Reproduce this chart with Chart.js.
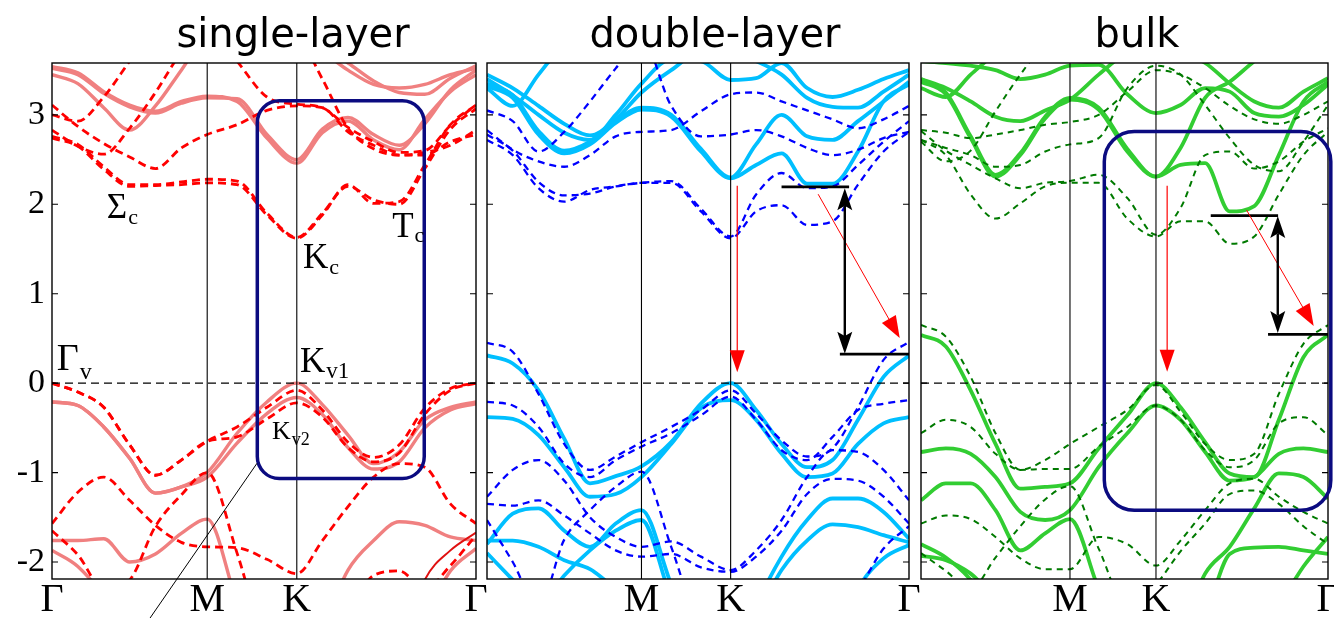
<!DOCTYPE html>
<html>
<head>
<meta charset="utf-8">
<script src="https://cdn.jsdelivr.net/npm/chart.js@4.4.1/dist/chart.umd.min.js"></script>
<style>
  html, body { margin: 0; padding: 0; background: #fff; }
  #wrap { position: relative; width: 1334px; height: 618px; overflow: hidden; }
  #wrap canvas { position: absolute; left: 0; top: 0; }
</style>
</head>
<body>
<div id="wrap">
  <canvas id="single" width="1334" height="618"></canvas>
  <canvas id="double" width="1334" height="618"></canvas>
  <canvas id="bulk" width="1334" height="618"></canvas>
</div>
<script>
// path Γ - M - K - Γ and the k samples every band is given on
const kPath = [0, 0.5774, 0.9107, 1.5774];
const kGrid = [0, 0.0962, 0.1925, 0.2887, 0.3849, 0.4811, 0.5774,
               0.6885, 0.7996, 0.9107,
               1.0059, 1.1012, 1.1964, 1.2917, 1.3869, 1.4822, 1.5774];
const eTicks = [-2, -1, 0, 1, 2, 3];
const E_MIN = -2.19, E_MAX = 3.58;
const SERIF = '"Liberation Serif", "Times New Roman", serif';

// ---- single-layer (eV) ----
const slS1 = [-0.21,-0.25,-0.49,-0.84,-1.23,-1.16,-1.0,-0.56,-0.21,0.0,-0.24,-0.58,-0.9,-0.77,-0.41,-0.27,-0.21];
const slS2 = [-0.21,-0.25,-0.49,-0.84,-1.23,-1.16,-1.05,-0.67,-0.34,-0.16,-0.35,-0.72,-0.96,-0.88,-0.5,-0.3,-0.23];
const slS3 = [-1.76,-1.76,-1.74,-2.0,-1.91,-1.68,-1.52,-2.45,-3.2,-3.4,-2.75,-2.09,-1.76,-1.55,-1.59,-1.72,-1.76];
const slS4 = [-1.87,-2.05,-2.4,-3.0,-3.0,-3.0,-3.0,-3.0,-3.0,-3.0,-3.0,-3.0,-3.0,-3.0,-2.6,-2.1,-1.85];
const slC1 = [3.54,3.47,3.26,3.11,3.04,3.15,3.21,3.15,2.74,2.46,2.8,2.93,2.72,2.61,2.95,3.26,3.45];
const slC2 = [3.52,3.45,3.24,3.09,3.02,3.13,3.19,3.18,2.78,2.5,2.84,2.97,2.78,2.66,2.9,3.28,3.5];
const slC3 = [3.45,3.35,3.08,2.83,3.1,3.5,3.9,4.0,3.9,3.8,3.7,3.5,3.34,3.3,3.34,3.45,3.52];
const slC4 = [3.62,3.7,3.8,3.9,3.9,3.9,3.9,3.9,3.9,3.85,3.75,3.58,3.38,3.25,3.23,3.41,3.55];
const slR1 = [-3.0,-3.0,-3.0,-3.0,-3.0,-3.0,-3.0,-3.0,-3.0,-3.0,-3.0,-3.0,-3.0,-3.0,-2.2,-1.87,-1.67];
const slD1 = [0.0,-0.1,-0.27,-0.69,-1.03,-0.86,-0.65,-0.49,-0.27,-0.08,-0.3,-0.66,-0.83,-0.69,-0.28,-0.06,0.0];
const slD2 = [0.0,-0.1,-0.27,-0.69,-1.03,-0.86,-0.65,-0.6,-0.4,-0.22,-0.38,-0.72,-0.88,-0.78,-0.35,-0.08,0.0];
const slD3 = [-1.57,-1.22,-1.05,-1.31,-1.59,-1.78,-1.83,-1.84,-1.97,-2.13,-1.76,-1.38,-1.05,-0.9,-0.94,-1.35,-1.57];
const slD4 = [-1.65,-1.92,-2.3,-2.2,-1.6,-1.25,-1.0,-1.9,-3.0,-3.5,-3.2,-2.6,-2.15,-2.1,-2.3,-2.04,-1.7];
const slD5 = [2.74,2.65,2.39,2.2,2.21,2.22,2.24,2.22,1.88,1.62,1.88,2.22,2.01,2.03,2.44,2.89,3.11];
const slD6 = [2.76,2.67,2.42,2.22,2.22,2.25,2.28,2.26,1.9,1.63,1.9,2.2,2.05,2.0,2.4,2.84,3.07];
const slD7 = [3.11,2.87,2.68,2.53,2.4,2.63,2.78,2.89,3.05,3.1,3.08,2.81,2.66,2.55,2.55,2.7,2.78];
const slD8 = [2.83,2.65,2.56,2.85,3.25,3.7,4.0,3.6,3.2,3.12,3.08,2.86,2.7,2.58,2.6,2.88,3.11];
const slD9 = [3.0,2.93,3.2,3.6,4.0,4.0,4.0,4.0,4.0,3.9,3.4,2.85,2.62,2.55,2.58,2.66,2.83];

// ---- double-layer (eV) ----
const dlS1 = [0.31,0.22,-0.08,-0.62,-1.12,-1.04,-0.93,-0.66,-0.23,0.0,-0.3,-0.68,-0.94,-0.86,-0.41,0.07,0.31];
const dlS2 = [-0.38,-0.4,-0.58,-0.94,-1.27,-1.24,-1.05,-0.68,-0.28,-0.19,-0.41,-0.79,-1.05,-1.01,-0.68,-0.45,-0.38];
const dlS3 = [-1.8,-1.46,-1.4,-1.65,-1.83,-1.57,-1.42,-2.25,-3.0,-3.3,-2.5,-1.94,-1.53,-1.29,-1.29,-1.44,-1.74];
const dlS4 = [-1.76,-1.76,-1.83,-1.98,-2.08,-2.3,-2.5,-3.0,-3.0,-3.0,-2.6,-2.09,-1.76,-1.58,-1.61,-1.7,-1.78];
const dlS5 = [-1.9,-2.2,-2.5,-2.15,-1.87,-1.65,-1.53,-2.4,-3.0,-3.0,-3.0,-3.0,-3.0,-3.0,-2.3,-1.96,-1.81];
const dlC1 = [3.32,3.19,2.78,2.57,2.67,2.91,3.06,2.98,2.59,2.29,2.44,2.57,2.23,2.23,2.59,3.15,3.34];
const dlC2 = [3.35,3.22,2.82,2.6,2.7,2.93,3.08,3.0,2.62,2.3,2.67,3.0,2.76,2.72,2.93,3.15,3.37];
const dlC3 = [3.4,3.22,3.0,2.8,2.72,3.0,3.35,3.62,3.6,3.39,3.41,3.58,3.3,3.2,3.28,3.4,3.5];
const dlC4 = [3.45,3.3,3.1,2.9,2.77,2.95,3.25,3.5,3.7,3.7,3.6,3.45,3.19,3.09,3.08,3.26,3.45];
const dlC5 = [3.3,3.1,3.45,3.8,4.0,4.0,4.0,4.0,4.0,4.0,4.0,4.0,4.0,4.0,4.0,4.0,4.0];
const dlD1 = [0.45,0.35,-0.12,-0.68,-0.97,-0.82,-0.66,-0.49,-0.3,-0.08,-0.34,-0.64,-0.82,-0.73,-0.27,0.26,0.46];
const dlD2 = [-0.21,-0.25,-0.49,-0.9,-1.05,-0.86,-0.71,-0.56,-0.36,-0.15,-0.41,-0.75,-0.86,-0.6,-0.3,-0.23,-0.19];
const dlD3 = [-1.27,-0.97,-0.86,-1.09,-1.5,-1.72,-1.83,-1.77,-1.94,-2.09,-1.87,-1.53,-1.05,-0.75,-0.77,-0.97,-1.31];
const dlD4 = [-1.53,-2.0,-2.5,-1.75,-1.42,-1.16,-0.99,-1.83,-2.8,-3.2,-3.0,-2.8,-2.6,-2.5,-2.3,-1.85,-1.6];
const dlD5 = [-1.35,-1.37,-1.31,-1.48,-1.68,-1.87,-1.94,-1.91,-2.06,-2.11,-1.94,-1.65,-1.24,-1.07,-1.09,-1.27,-1.57];
const dlD6 = [2.72,2.55,2.18,2.03,2.16,2.2,2.24,2.24,1.92,1.62,1.92,1.99,1.77,1.81,2.22,2.59,2.81];
const dlD7 = [2.78,2.6,2.25,2.1,2.12,2.2,2.24,2.26,1.95,1.64,2.11,2.35,2.18,2.2,2.44,2.7,2.93];
const dlD8 = [2.83,2.61,2.48,2.42,2.55,2.76,2.81,2.83,3.04,3.23,3.25,3.15,3.05,2.95,2.85,2.95,3.1];
const dlD9 = [3.05,2.93,2.59,2.81,3.15,3.52,3.85,3.1,2.76,2.78,2.83,2.76,2.63,2.55,2.61,2.74,2.81];

// ---- bulk (eV) ----
const bkS1 = [0.54,0.41,-0.08,-0.68,-1.18,-1.16,-1.12,-0.73,-0.36,0.0,-0.27,-0.66,-1.01,-1.05,-0.41,0.29,0.54];
const bkS2 = [-0.77,-0.73,-0.79,-1.05,-1.44,-1.53,-1.42,-0.94,-0.56,-0.25,-0.41,-0.77,-1.09,-1.05,-0.79,-0.73,-0.77];
const bkS3 = [-1.31,-1.12,-1.12,-1.42,-1.87,-1.68,-1.52,-2.3,-3.0,-3.3,-2.8,-2.13,-1.83,-1.4,-1.01,-1.05,-1.29];
const bkS4 = [-1.93,-1.98,-2.13,-2.4,-2.6,-2.5,-2.4,-3.0,-3.0,-3.0,-3.0,-2.6,-1.91,-1.84,-1.83,-1.87,-1.91];
const bkS5 = [-1.8,-1.95,-2.2,-2.6,-3.0,-3.0,-3.0,-3.0,-3.0,-3.0,-3.0,-3.0,-3.0,-3.0,-2.5,-2.05,-1.72];
const bkC1 = [3.37,3.23,2.74,2.31,2.55,2.96,3.17,3.06,2.59,2.31,2.44,2.46,1.92,1.98,2.55,3.15,3.37];
const bkC2 = [3.4,3.25,2.76,2.33,2.57,2.98,3.19,3.08,2.62,2.31,2.63,3.19,3.37,3.6,3.8,3.9,3.9];
const bkC3 = [3.4,3.3,3.15,2.98,2.93,3.05,3.17,3.45,3.7,3.8,3.7,3.58,3.35,3.15,3.08,3.26,3.41];
const bkC4 = [3.6,3.58,3.55,3.5,3.4,3.45,3.55,3.56,3.23,3.02,3.11,3.3,3.26,3.02,2.98,3.11,3.34];
const bkC5 = [3.3,3.2,3.45,3.7,4.0,4.0,4.0,4.0,4.0,4.0,4.0,4.0,4.0,4.0,4.0,4.0,4.0];
const bkD1 = [0.65,0.52,0.07,-0.56,-0.97,-0.86,-0.68,-0.49,-0.3,-0.02,-0.32,-0.68,-0.86,-0.79,-0.12,0.44,0.65];
const bkD2 = [-0.56,-0.41,-0.49,-0.79,-0.97,-0.96,-0.96,-0.71,-0.49,-0.25,-0.41,-0.75,-0.94,-0.86,-0.45,-0.38,-0.58];
const bkD3 = [-1.57,-1.48,-1.52,-1.72,-1.96,-2.08,-2.08,-1.72,-1.8,-2.04,-1.76,-1.42,-1.12,-1.07,-1.27,-1.44,-1.57];
const bkD4 = [-1.9,-2.1,-2.3,-1.95,-1.6,-1.3,-1.15,-1.85,-2.5,-2.25,-1.88,-1.57,-1.24,-1.2,-1.35,-1.6,-1.8];
const bkD5 = [2.72,2.55,2.11,1.84,2.01,2.2,2.24,2.24,1.84,1.64,1.81,1.81,1.56,1.64,2.11,2.55,2.81];
const bkD6 = [2.82,2.6,2.44,2.29,2.18,2.24,2.26,2.33,2.07,1.66,1.96,2.55,2.59,2.4,2.48,2.7,2.85];
const bkD7 = [2.72,2.63,2.55,2.42,2.44,2.59,2.67,2.74,3.3,3.55,3.45,3.11,2.74,2.44,2.37,2.7,3.11];
const bkD8 = [2.83,2.8,2.74,2.78,2.83,2.89,2.92,3.0,3.26,3.5,3.45,3.3,3.1,2.95,2.9,3.0,3.15];
const bkD9 = [2.7,2.48,2.6,3.04,3.45,3.8,4.0,4.0,4.0,4.0,4.0,4.0,4.0,4.0,4.0,4.0,4.0];

function bandSets(bands, color, width, dash) {
  return bands.map(b => ({
    data: b.map((e, i) => ({ x: kGrid[i], y: e })),
    borderColor: color,
    borderWidth: width,
    borderDash: dash || [],
    pointRadius: 0,
    fill: false,
    cubicInterpolationMode: 'monotone',
    clip: 0
  }));
}

// fixed axis boxes so the plot area lands on the same pixels in every panel
function fitX(scale) {
  scale.height = 39;
  scale.paddingLeft = scale.paddingRight = 0;
}
function fitY(left) {
  return scale => {
    scale.width = left;
    scale.paddingTop = scale.paddingBottom = 0;
  };
}

function arrowHead(ctx, x, y, ang, len, w, notch) {
  const c = Math.cos(ang), s = Math.sin(ang);
  ctx.beginPath();
  ctx.moveTo(x, y);
  ctx.lineTo(x - len * c + w / 2 * s, y - len * s - w / 2 * c);
  if (notch) ctx.lineTo(x - len * 0.8 * c, y - len * 0.8 * s);
  ctx.lineTo(x - len * c - w / 2 * s, y - len * s + w / 2 * c);
  ctx.closePath();
  ctx.fill();
}

function roundRect(ctx, x1, y1, x2, y2, r) {
  ctx.beginPath();
  ctx.moveTo(x1 + r, y1);
  ctx.arcTo(x2, y1, x2, y2, r);
  ctx.arcTo(x2, y2, x1, y2, r);
  ctx.arcTo(x1, y2, x1, y1, r);
  ctx.arcTo(x1, y1, x2, y1, r);
  ctx.closePath();
  ctx.stroke();
}

// frame, symmetry lines, E=0 line, boxes, arrows and point labels
function decor(d) {
  return {
    id: 'decor',
    afterDatasetsDraw(chart) {
      const { ctx, chartArea: a, scales: { x, y } } = chart;
      const px = k => x.getPixelForValue(k);
      const py = e => y.getPixelForValue(e);
      ctx.save();
      ctx.strokeStyle = '#000';
      ctx.lineWidth = 1.1;
      ctx.setLineDash([8, 5]);
      ctx.beginPath();
      ctx.moveTo(a.left, py(0));
      ctx.lineTo(a.right, py(0));
      ctx.stroke();
      ctx.setLineDash([]);
      [kPath[1], kPath[2]].forEach(k => {
        ctx.beginPath();
        ctx.moveTo(px(k), a.top);
        ctx.lineTo(px(k), a.bottom);
        ctx.stroke();
      });
      eTicks.forEach(e => {
        ctx.beginPath();
        ctx.moveTo(a.left, py(e)); ctx.lineTo(a.left + 6, py(e));
        ctx.moveTo(a.right, py(e)); ctx.lineTo(a.right - 6, py(e));
        ctx.stroke();
      });
      ctx.lineWidth = 1.4;
      ctx.strokeRect(a.left, a.top, a.right - a.left, a.bottom - a.top);

      (d.boxes || []).forEach(b => {
        ctx.strokeStyle = '#0b0b80';
        ctx.lineWidth = 3.5;
        roundRect(ctx, px(b.k1), py(b.e2), px(b.k2), py(b.e1), b.r);
      });
      (d.lines || []).forEach(l => {
        ctx.strokeStyle = '#000';
        ctx.lineWidth = l.w;
        ctx.beginPath();
        ctx.moveTo(px(l.k1), py(l.e1));
        ctx.lineTo(px(l.k2), py(l.e2));
        ctx.stroke();
      });
      (d.arrows || []).forEach(r => {
        const x1 = px(r.k1), y1 = py(r.e1), x2 = px(r.k2), y2 = py(r.e2);
        const ang = Math.atan2(y2 - y1, x2 - x1);
        const back = r.notch ? r.head * 0.8 : r.head * 0.9;
        ctx.strokeStyle = r.color;
        ctx.fillStyle = r.color;
        ctx.lineWidth = r.w;
        ctx.beginPath();
        ctx.moveTo(r.both ? x1 + back * Math.cos(ang) : x1, r.both ? y1 + back * Math.sin(ang) : y1);
        ctx.lineTo(x2 - back * Math.cos(ang), y2 - back * Math.sin(ang));
        ctx.stroke();
        arrowHead(ctx, x2, y2, ang, r.head, r.hw, r.notch);
        if (r.both) arrowHead(ctx, x1, y1, ang + Math.PI, r.head, r.hw, r.notch);
      });
      ctx.fillStyle = '#000';
      ctx.textAlign = 'left';
      ctx.textBaseline = 'alphabetic';
      (d.labels || []).forEach(t => {
        const x0 = px(t.k), y0 = py(t.e);
        ctx.font = t.size + 'px ' + SERIF;
        ctx.fillText(t.text, x0, y0);
        const w = ctx.measureText(t.text).width;
        ctx.font = t.sub + 'px ' + SERIF;
        ctx.fillText(t.low, x0 + w + 1, y0 + t.dy);
      });
      ctx.font = '40px "DejaVu Sans"';
      ctx.textAlign = 'center';
      ctx.fillText(d.title, d.titleX, 47);
      ctx.restore();
    }
  };
}

function panel(id, left, right, names, showE, sets, deco) {
  return new Chart(document.getElementById(id), {
    type: 'line',
    data: { datasets: sets },
    options: {
      responsive: false,
      animation: false,
      events: [],
      layout: { padding: { left: 0, right: 1334 - right, top: 63, bottom: 0 } },
      plugins: { legend: { display: false }, tooltip: { enabled: false } },
      scales: {
        x: {
          type: 'linear', min: kPath[0], max: kPath[3],
          afterBuildTicks: s => { s.ticks = kPath.map(v => ({ value: v })); },
          afterFit: fitX,
          grid: { display: false, drawTicks: false },
          border: { display: false },
          ticks: {
            autoSkip: false, maxRotation: 0, padding: 1, color: '#000',
            font: { family: SERIF, size: 40, lineHeight: 1 },
            callback: (v, i) => names[i]
          }
        },
        y: {
          type: 'linear', min: E_MIN, max: E_MAX,
          afterBuildTicks: s => { s.ticks = eTicks.map(v => ({ value: v })); },
          afterFit: fitY(left),
          grid: { display: false, drawTicks: false },
          border: { display: false },
          ticks: {
            display: showE, padding: 7, color: '#000',
            font: { family: SERIF, size: 34 },
            callback: v => String(v)
          }
        }
      }
    },
    plugins: [decor(deco)]
  });
}

panel('single', 52, 476, ['Γ', 'M', 'K', 'Γ'], true,
  [].concat(
    bandSets([slD1, slD2, slD3, slD4, slD5, slD6, slD7, slD8, slD9], '#ff0000', 2.8, [8, 5]),
    bandSets([slR1], '#e01010', 2),
    bandSets([slS1, slS2, slS3, slS4, slC1, slC2, slC3, slC4], '#f08080', 3.4)
  ),
  {
    title: 'single-layer', titleX: 293,
    boxes: [{ k1: 0.7638, k2: 1.3849, e1: -1.067, e2: 3.158, r: 22 }],
    lines: [{ k1: 0.7627, e1: -0.896, k2: 0.364, e2: -2.63, w: 1 }],
    labels: [
      { text: 'Σ', low: 'c', k: 0.2038, e: 1.848, size: 35, sub: 22, dy: 6 },
      { text: 'T', low: 'c', k: 1.2655, e: 1.635, size: 35, sub: 22, dy: 5 },
      { text: 'K', low: 'c', k: 0.934, e: 1.288, size: 35, sub: 22, dy: 6 },
      { text: 'Γ', low: 'v', k: 0.0175, e: 0.146, size: 38, sub: 24, dy: 9 },
      { text: 'K', low: 'v1', k: 0.9229, e: 0.123, size: 35, sub: 23, dy: 6 },
      { text: 'K', low: 'v2', k: 0.8186, e: -0.63, size: 26, sub: 18, dy: 6 }
    ]
  });

panel('double', 487, 909, ['', 'M', 'K', 'Γ'], false,
  [].concat(
    bandSets([dlD1, dlD2, dlD3, dlD4, dlD5, dlD6, dlD7, dlD8, dlD9], '#0000ff', 2.3, [7, 5]),
    bandSets([dlS1, dlS2, dlS3, dlS4, dlS5, dlC1, dlC2, dlC3, dlC4, dlC5], '#00bfff', 3.8)
  ),
  {
    title: 'double-layer', titleX: 715,
    lines: [
      { k1: 1.101, e1: 2.195, k2: 1.3535, e2: 2.195, w: 2.6 },
      { k1: 1.319, e1: 0.325, k2: 1.5774, e2: 0.325, w: 2.6 }
    ],
    arrows: [
      { k1: 0.9354, e1: 2.206, k2: 0.9354, e2: 0.123, color: '#ff0000', w: 1.2, head: 22, hw: 15 },
      { k1: 1.2378, e1: 2.113, k2: 1.5427, e2: 0.504, color: '#ff0000', w: 1, head: 22, hw: 16 },
      { k1: 1.3374, e1: 2.18, k2: 1.3374, e2: 0.33, color: '#000', w: 2.4, head: 22, hw: 15, both: true, notch: true }
    ]
  });

panel('bulk', 921, 1328, ['', 'M', 'K', 'Γ'], false,
  [].concat(
    bandSets([bkD1, bkD2, bkD3, bkD4, bkD5, bkD6, bkD7, bkD8, bkD9], '#007a00', 2, [6, 5]),
    bandSets([bkS1, bkS2, bkS3, bkS4, bkS5, bkC1, bkC2, bkC3, bkC4, bkC5], '#32cd32', 3.8)
  ),
  {
    title: 'bulk', titleX: 1137,
    boxes: [{ k1: 0.7104, k2: 1.5883, e1: -1.422, e2: 2.814, r: 30 }],
    lines: [
      { k1: 1.123, e1: 1.873, k2: 1.384, e2: 1.873, w: 2.6 },
      { k1: 1.345, e1: 0.545, k2: 1.5774, e2: 0.545, w: 2.6 }
    ],
    arrows: [
      { k1: 0.954, e1: 2.206, k2: 0.954, e2: 0.127, color: '#ff0000', w: 1.2, head: 22, hw: 15 },
      { k1: 1.2614, e1: 1.937, k2: 1.522, e2: 0.638, color: '#ff0000', w: 1, head: 22, hw: 16 },
      { k1: 1.3827, e1: 1.87, k2: 1.3827, e2: 0.56, color: '#000', w: 2.4, head: 22, hw: 15, both: true, notch: true }
    ]
  });
</script>
</body>
</html>
